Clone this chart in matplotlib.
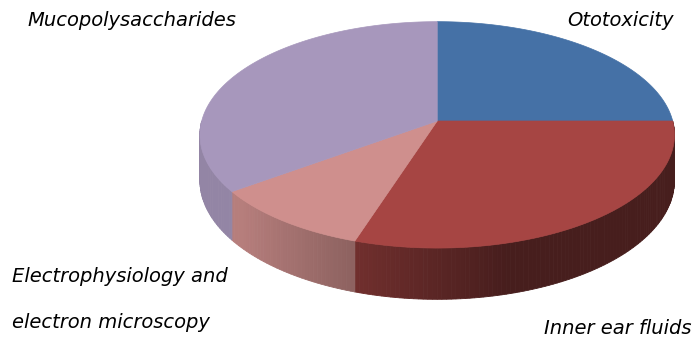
import numpy as np
import matplotlib
matplotlib.use("Agg")
import matplotlib.pyplot as plt
from matplotlib.patches import Polygon
from matplotlib.colors import to_rgb

# ---- data ----
categories = ["Ototoxicity", "Inner ear fluids",
              "Electrophysiology and\n\nelectron microscopy", "Mucopolysaccharides"]
values = [25, 30, 10, 35]
colors = ["#4571A6", "#A64543", "#CF8F8D", "#A797BC"]

# ---- geometry (pixel space) ----
W, H = 697, 341
cx, cy = 437.2, 121.0
A, B, k = 235.5, 111.5, 0.1224
D = 45.0

def proj(theta_deg, depth=0.0):
    t = np.radians(theta_deg)
    u, v = np.cos(t), np.sin(t)
    w = 1 + k * v
    x = cx + A * u / w
    y = cy - B * v / w + D * depth / w
    return x, y

def shade(theta_deg):
    f = 0.544 - 0.44 * np.cos(np.radians(theta_deg))
    return float(np.clip(f, 0.43, 0.88))

fig = plt.figure(figsize=(W / 100, H / 100), dpi=100)
ax = fig.add_axes([0, 0, 1, 1])
ax.set_xlim(0, W)
ax.set_ylim(H, 0)
ax.axis("off")

total = sum(values)
starts, ends = [], []
a = 90.0
for v in values:
    span = 360.0 * v / total
    starts.append(a)
    ends.append(a - span)
    a -= span

# sides (front half: theta in (-180, 0))
for s, e, col in zip(starts, ends, colors):
    lo, hi = max(e, -180.0), min(s, 0.0)
    for (l, h) in [(lo, hi), (max(e + 360, -180), min(s + 360, 0))]:
        if h <= l:
            continue
        n = max(2, int((h - l) / 1.0) + 1)
        ts = np.linspace(l, h, n)
        base = np.array(to_rgb(col))
        for t0, t1 in zip(ts[:-1], ts[1:]):
            p0 = proj(t0); p1 = proj(t1)
            q1 = proj(t1, 1); q0 = proj(t0, 1)
            c = base * shade((t0 + t1) / 2)
            ax.add_patch(Polygon([p0, p1, q1, q0], closed=True,
                                 facecolor=c, edgecolor=c, lw=0.6))

# top faces
for s, e, col in zip(starts, ends, colors):
    ts = np.linspace(s, e, max(3, int(abs(s - e)) + 1))
    pts = [(cx, cy)] + [proj(t) for t in ts]
    ax.add_patch(Polygon(pts, closed=True, facecolor=col, edgecolor=col, lw=0.5))

# labels
fs = 14
tkw = dict(fontsize=fs, style="italic", family="DejaVu Sans", color="black", va="center")
ax.text(27, 20, categories[3], ha="left", **tkw)
ax.text(674, 20, categories[0], ha="right", **tkw)
ax.text(12, 276, "Electrophysiology and", ha="left", **tkw)
ax.text(12, 322, "electron microscopy", ha="left", **tkw)
ax.text(691, 328, categories[1], ha="right", **tkw)

fig.savefig("out.png", dpi=100)
